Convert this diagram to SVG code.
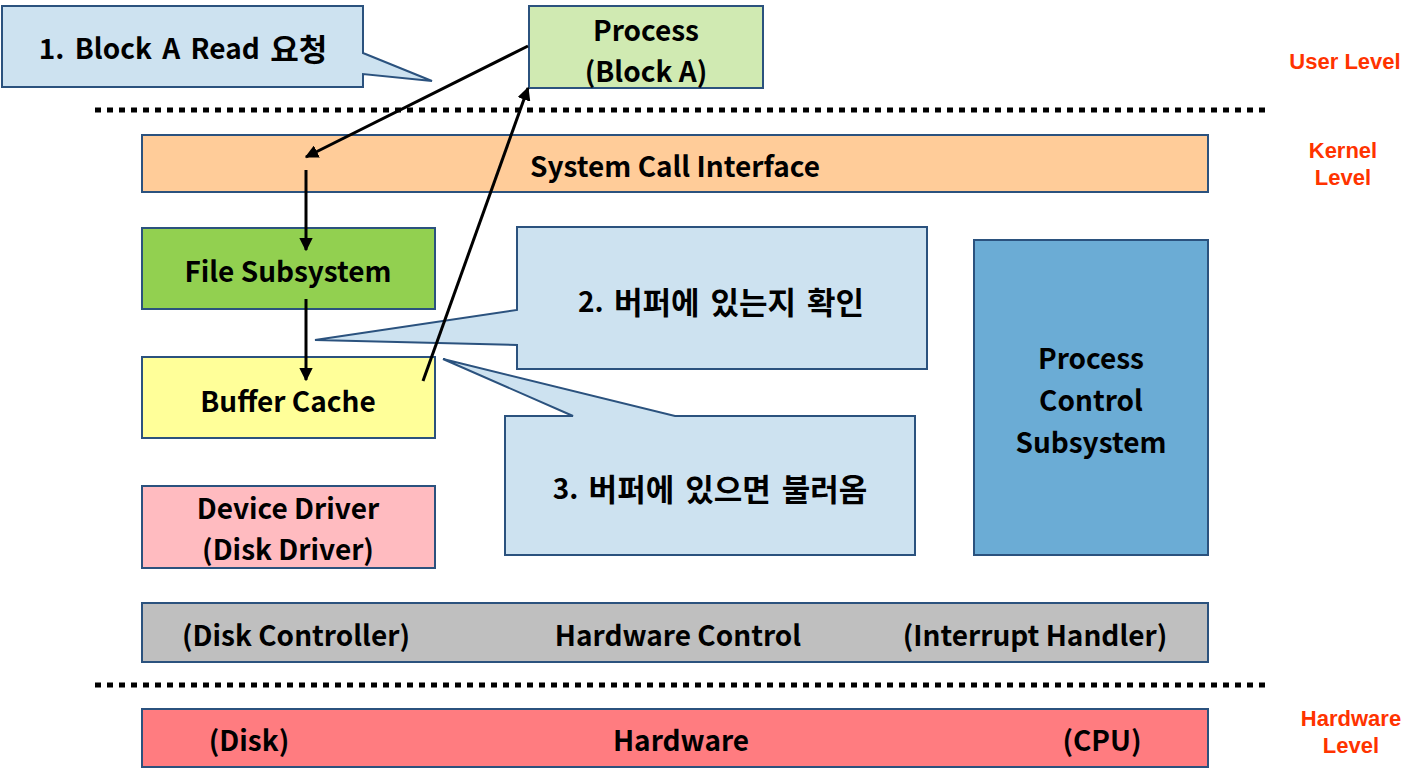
<svg xmlns="http://www.w3.org/2000/svg" width="1419" height="775" viewBox="0 0 1419 775">
<style>
.box{stroke:#2B527E;stroke-width:2}
.t{font-family:"Noto Sans CJK KR","Liberation Sans",sans-serif;font-weight:bold;font-size:28px;fill:#000;text-anchor:middle;dominant-baseline:central}
.k{font-size:31px}
.ws{word-spacing:4px}
.lv{font-family:"Liberation Sans",Arial,sans-serif;font-weight:bold;font-size:22px;fill:#FF3300;text-anchor:middle;dominant-baseline:central}
.dot{stroke:#000;stroke-width:5;stroke-dasharray:6 6}
.c{stroke:#000;stroke-width:3;fill:none;marker-end:url(#ah)}
.call{fill:#CDE2F0}
</style>
<defs>
<marker id="ah" viewBox="0 0 10 10" refX="9" refY="5" markerWidth="4.5" markerHeight="4.5" markerUnits="strokeWidth" orient="auto">
<path d="M0,0 L10,5 L0,10 Z" fill="#000"/>
</marker>
</defs>
<rect width="1419" height="775" fill="#fff"/>
<g id="separators">
<line class="dot" x1="95" y1="110" x2="1266" y2="110"/>
<line class="dot" x1="95" y1="685" x2="1266" y2="685"/>
</g>
<g id="levels">
<text class="lv" x="1345" y="61">User Level</text>
<text class="lv" x="1343" y="150">Kernel</text>
<text class="lv" x="1343" y="177">Level</text>
<text class="lv" x="1351" y="718">Hardware</text>
<text class="lv" x="1351" y="745">Level</text>
</g>
<g id="callout1">
<path class="box call" d="M2,6 H363 V53 L432,81 L363,74 V87 H2 Z"/>
<text class="t ws" x="183" y="47">1. Block A Read <tspan class="k">요청</tspan></text>
</g>
<g id="process">
<rect class="box" x="529" y="6" width="234" height="82" fill="#D0EAB2"/>
<text class="t" x="646" y="29">Process</text>
<text class="t" x="646" y="70">(Block A)</text>
</g>
<g id="syscall">
<rect class="box" x="142" y="135" width="1066" height="57" fill="#FFCC99"/>
<text class="t" x="675" y="165">System Call Interface</text>
</g>
<g id="filesub">
<rect class="box" x="142" y="228" width="293" height="81" fill="#92D050"/>
<text class="t" x="288" y="270">File Subsystem</text>
</g>
<g id="buffer">
<rect class="box" x="142" y="357" width="293" height="81" fill="#FFFF99"/>
<text class="t" x="288" y="400">Buffer Cache</text>
</g>
<g id="device">
<rect class="box" x="142" y="486" width="293" height="82" fill="#FFBBC0"/>
<text class="t" x="288" y="507">Device Driver</text>
<text class="t" x="288" y="548">(Disk Driver)</text>
</g>
<g id="callout2">
<path class="box call" d="M517,227 H927 V369 H517 V345 L315,340 L517,310 Z"/>
<text class="t ws" x="721" y="300">2. <tspan class="k">버퍼에 있는지 확인</tspan></text>
</g>
<g id="callout3">
<path class="box call" d="M505,416 H573 L443,359 L675,416 H915 V555 H505 Z"/>
<text class="t ws" x="710" y="487">3. <tspan class="k">버퍼에 있으면 불러옴</tspan></text>
</g>
<g id="pcs">
<rect class="box" x="974" y="240" width="234" height="315" fill="#6BACD5"/>
<text class="t" x="1091" y="357">Process</text>
<text class="t" x="1091" y="399">Control</text>
<text class="t" x="1091" y="441">Subsystem</text>
</g>
<g id="hwcontrol">
<rect class="box" x="142" y="603" width="1066" height="59" fill="#BFBFBF"/>
<text class="t" x="296" y="634">(Disk Controller)</text>
<text class="t" x="678" y="634">Hardware Control</text>
<text class="t" x="1035" y="634">(Interrupt Handler)</text>
</g>
<g id="hardware">
<rect class="box" x="142" y="709" width="1066" height="58" fill="#FF7C80"/>
<text class="t" x="249" y="739">(Disk)</text>
<text class="t" x="681" y="739">Hardware</text>
<text class="t" x="1102" y="739">(CPU)</text>
</g>
<g id="connectors">
<line class="c" x1="528" y1="46" x2="306" y2="157"/>
<line class="c" x1="306" y1="170" x2="306" y2="250"/>
<line class="c" x1="306" y1="299" x2="306" y2="380"/>
<line class="c" x1="423" y1="381" x2="528" y2="88"/>
</g>
</svg>
